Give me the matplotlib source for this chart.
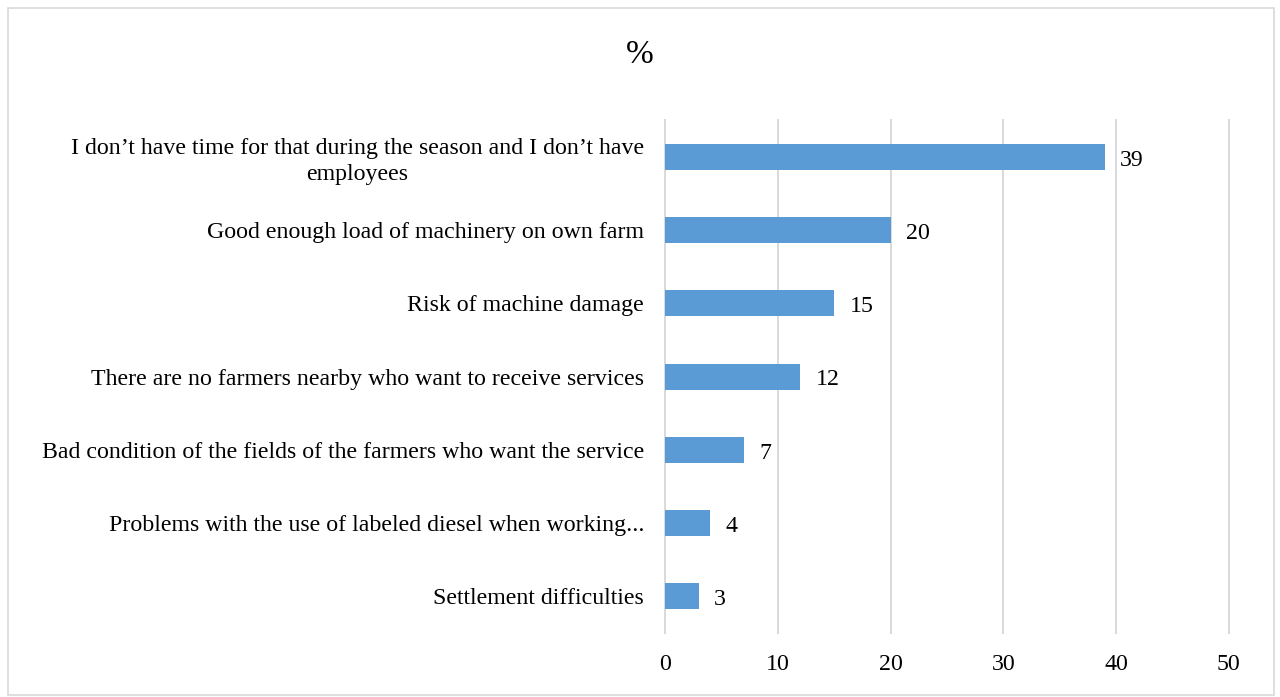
import matplotlib.pyplot as plt
from matplotlib.patches import Rectangle

reasons = [
    "I don\u2019t have time for that during the season and I don\u2019t have\nemployees",
    "Good enough load of machinery on own farm",
    "Risk of machine damage",
    "There are no farmers nearby who want to receive services",
    "Bad condition of the fields of the farmers who want the service",
    "Problems with the use of labeled diesel when working...",
    "Settlement difficulties",
]
shares = [39, 20, 15, 12, 7, 4, 3]
xticks = [0, 10, 20, 30, 40, 50]

plt.rcParams['font.family'] = ['Liberation Serif', 'DejaVu Serif']
fs = 17.2

fig = plt.figure(figsize=(12.8, 6.97), dpi=100)
ax = fig.add_axes([0.5195, 0.0918, 0.4406, 0.736])

pos = list(range(len(reasons)))[::-1]
ax.barh(pos, shares, height=0.355, color='#5B9BD5', zorder=3)
for p, v in zip(pos, shares):
    ax.annotate(str(v), (v, p), xytext=(11, -2.5), textcoords='offset points',
                ha='left', va='center', fontsize=fs)

ax.set_xlim(0, 50)
ax.set_ylim(-0.5, len(reasons) - 0.5)
ax.set_xticks(xticks)
ax.set_yticks(pos)
ax.set_yticklabels(reasons, fontsize=fs, multialignment='center', linespacing=1.3)
ax.tick_params(axis='both', length=0, labelsize=fs)
ax.tick_params(axis='y', pad=15)
ax.tick_params(axis='x', pad=15)
ax.grid(axis='x', color='#d9d9d9', linewidth=1.4, zorder=0)
for gl in ax.get_xgridlines():
    gl.set_clip_on(False)
for s in ax.spines.values():
    s.set_visible(False)

fig.text(0.5, 0.922, '%', ha='center', va='center', fontsize=24)

# thin frame around the whole chart
fig.patches.append(Rectangle((0.006, 0.003), 0.989, 0.986, transform=fig.transFigure,
                             fill=False, edgecolor='#d9d9d9', linewidth=1.2))

fig.savefig('out.png', dpi=100)
